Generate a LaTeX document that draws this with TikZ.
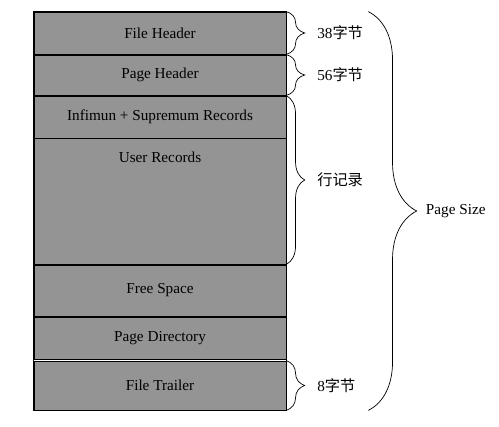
\documentclass[tikz,border=0pt]{standalone}
\usepackage{fontspec}
\setmainfont{Liberation Serif}
\newfontfamily\cjk{Noto Sans CJK SC}
\usetikzlibrary{positioning, decorations.pathreplacing}

\begin{document}
\begin{tikzpicture}[
    x=0.03cm, y=-0.03cm,
    font=\fontsize{13}{15}\selectfont,
    row/.style={
        draw=black, line width=0.6pt,
        rectangle, fill=black!42,
        minimum width=7.56cm, inner sep=0pt
    },
    brace/.style={
        decorate, line width=0.6pt,
        decoration={brace, amplitude=#1}
    },
    brace/.default=0.55cm,
    size label/.style={anchor=west, xshift=0.8cm}
]
\useasboundingbox (0,0) rectangle (499,427);

% Page rows
\node[row, minimum height=1.26cm] (fh) at (160,33) {File Header};
\node[row, minimum height=1.2cm] (ph) at (160,75) {Page Header};
\node[row, minimum height=1.26cm] (inf) at (160,117) {Infimun + Supremum Records};
\node[row, minimum height=3.78cm,
      label={[anchor=north, yshift=-0.3cm]north:User Records}] (ur) at (160,201) {};
\node[row, minimum height=1.53cm] (fs) at (160,290.5) {Free Space};
\node[row, minimum height=1.26cm] (pd) at (160,338) {Page Directory};
\node[row, minimum height=1.47cm] (ft) at (160,385.5) {File Trailer};

% Outer frame
\draw[line width=1pt] (fh.north west) rectangle (ft.south east);

% Small braces with sizes
\draw[brace] (fh.north east) -- node[midway, size label] {38{\cjk 字节}} (fh.south east);
\draw[brace] (ph.north east) -- node[midway, size label] {56{\cjk 字节}} (ph.south east);
\draw[brace] (inf.north east) -- node[midway, size label] {{\cjk 行记录}} (ur.south east);
\draw[brace] (ft.north east) -- node[midway, size label] {8{\cjk 字节}} (ft.south east);

% Big brace
\draw[brace=1.45cm] ([xshift=2.46cm]fh.north east) -- node[midway, anchor=west, xshift=1.6cm] {Page Size} ([xshift=2.46cm]ft.south east);

\end{tikzpicture}
\end{document}
